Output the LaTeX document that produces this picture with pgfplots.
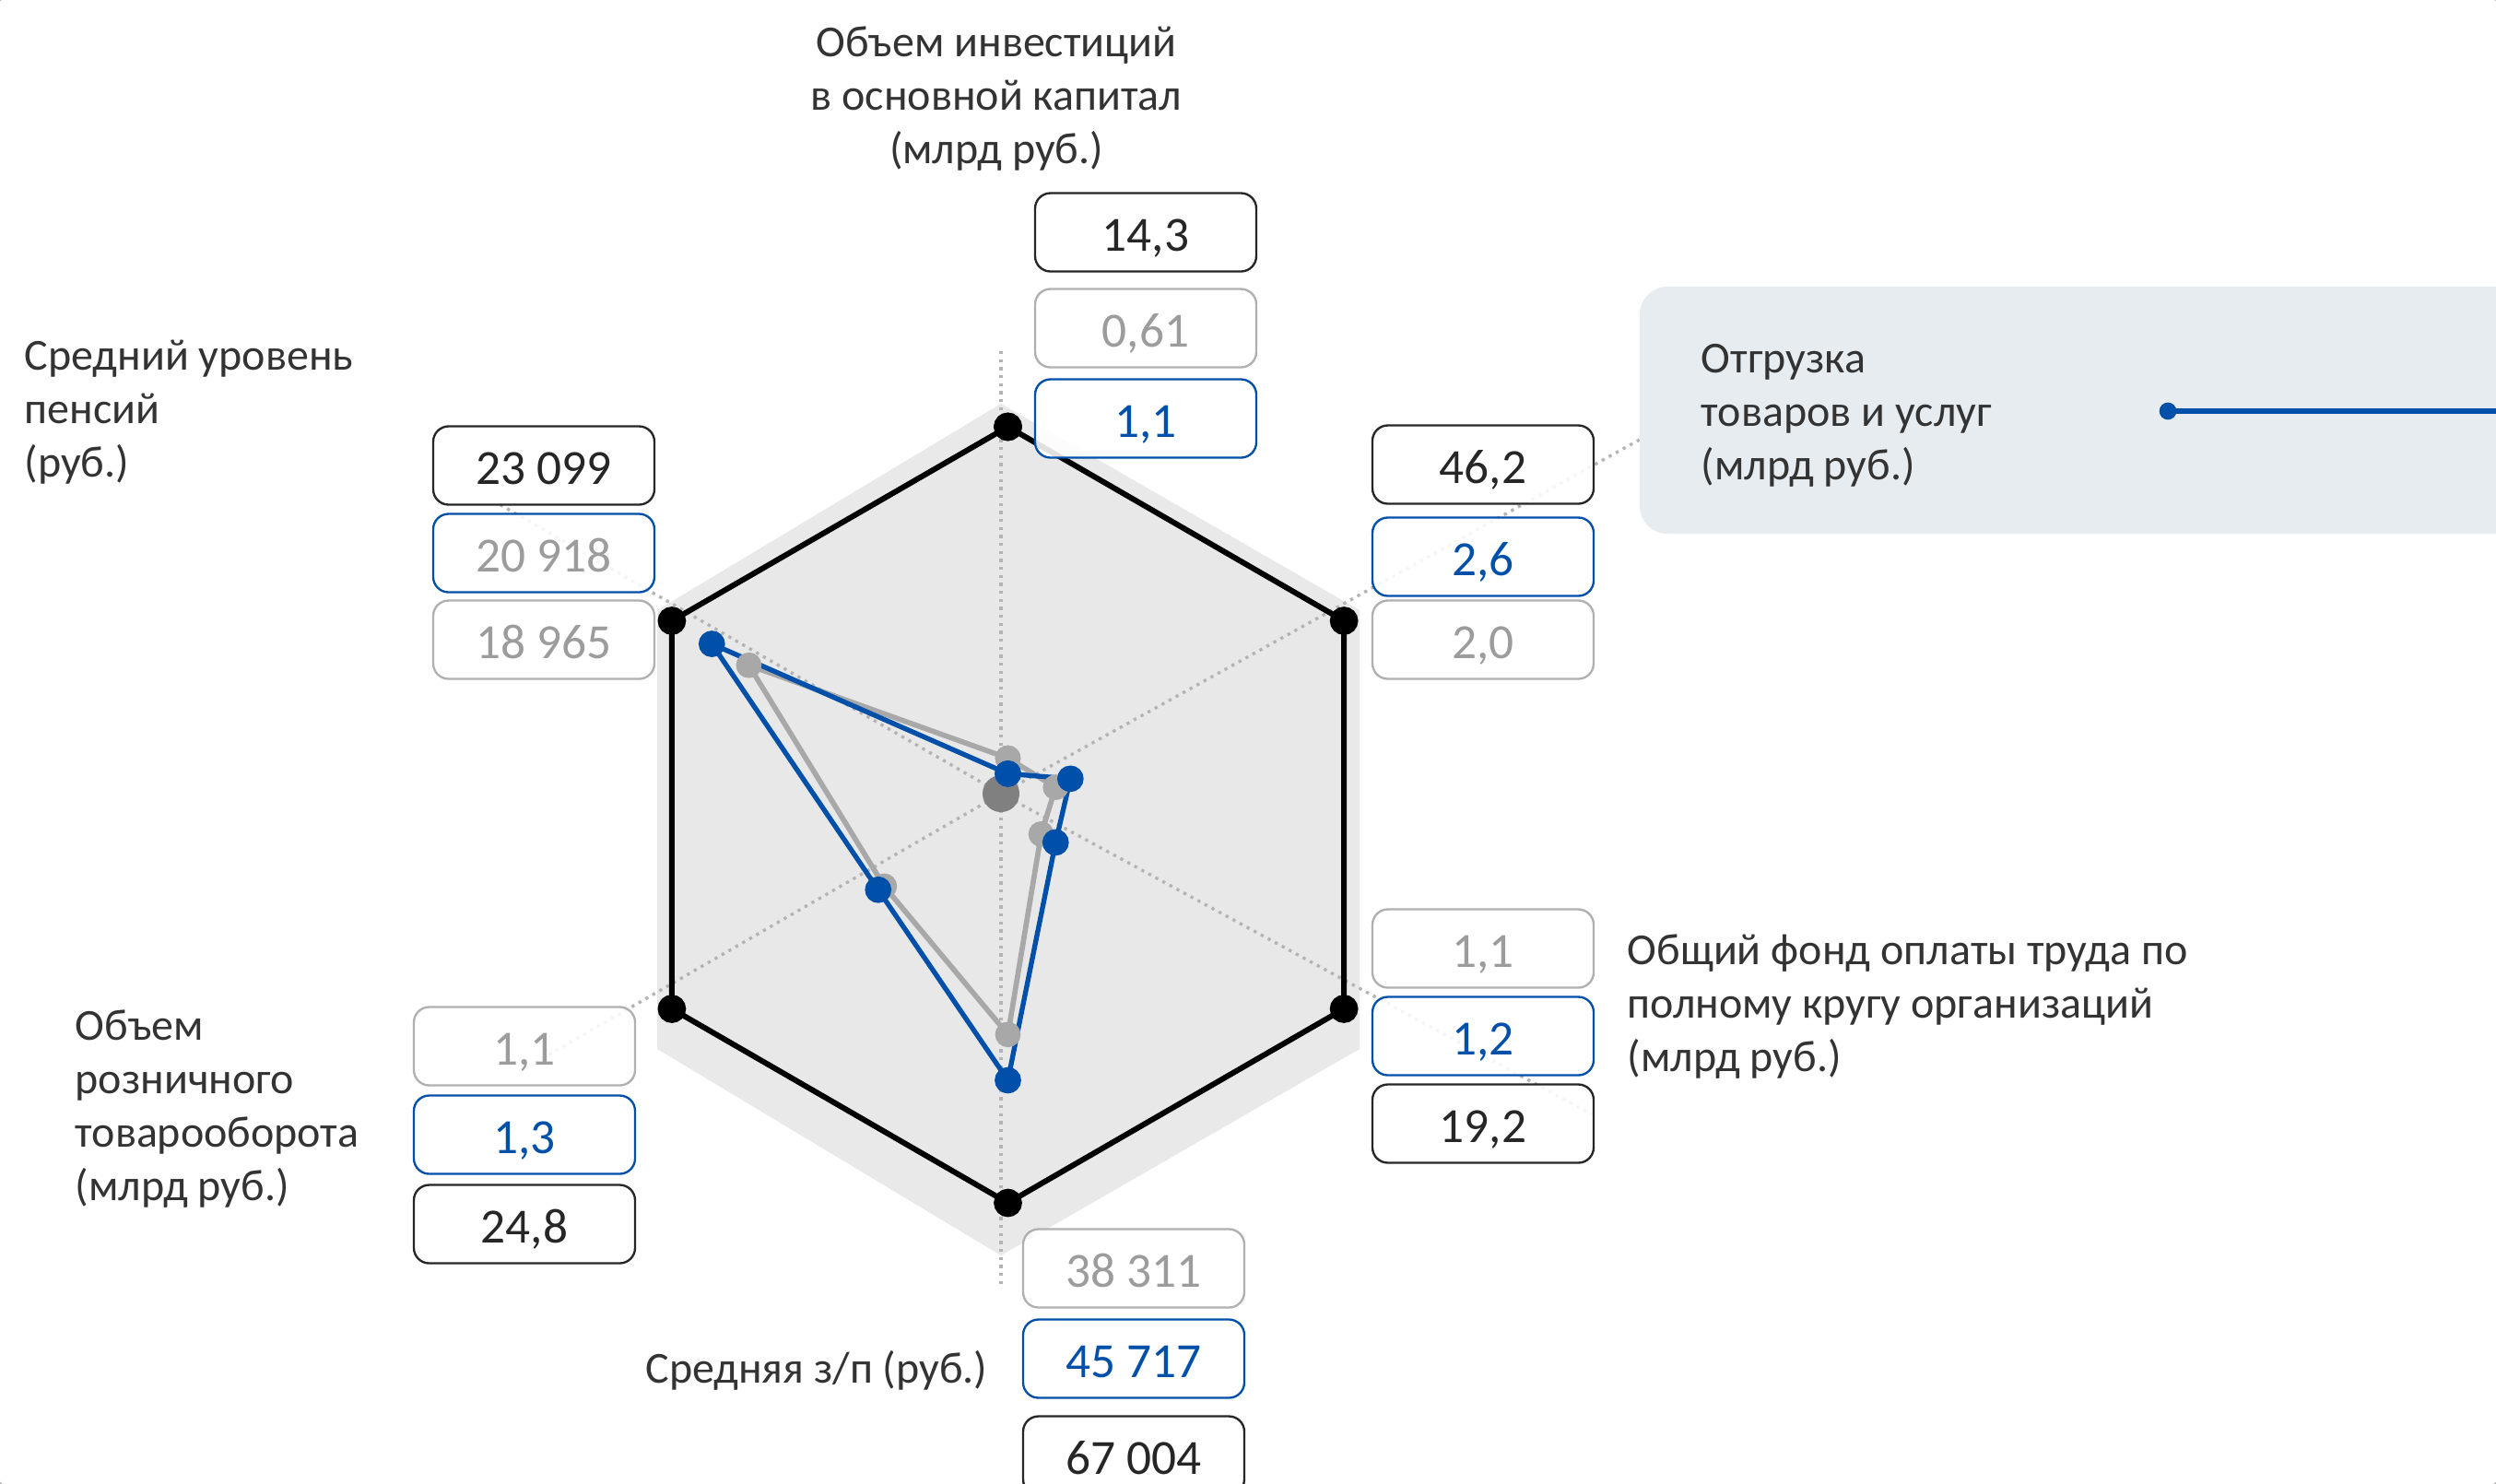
\documentclass[border=0pt]{standalone}
\usepackage{pgfplots}
\pgfplotsset{compat=1.18}
\usepackage{pgfplotstable}
\usepackage{fontspec}
\setmainfont{Carlito}
\definecolor{bg}{HTML}{F2F3F3}
\definecolor{shade}{HTML}{E9E9E9}
\definecolor{hexfill}{HTML}{E8E8E8}
\definecolor{blueS}{HTML}{0050AA}
\definecolor{grayS}{HTML}{A8A8A8}
\definecolor{raycol}{HTML}{B4B4B4}
\definecolor{labcol}{HTML}{333333}
\definecolor{numblack}{HTML}{262626}
\definecolor{numgray}{HTML}{9C9C9C}
\definecolor{boxgray}{HTML}{B0B0B0}
\definecolor{callout}{HTML}{E7ECF0}
\definecolor{centerdot}{HTML}{808080}

% normalised radar values (angle in degrees, radius relative to hexagon)
\pgfplotstableread{
a r
90 0.106
30 0.186
-30 0.142
-90 0.684
-150 0.386
150 0.881
90 0.106
}\blueT
\pgfplotstableread{
a r
90 0.146
30 0.142
-30 0.099
-90 0.566
-150 0.368
150 0.771
90 0.146
}\grayT
\pgfplotstableread{
a r
90 1
30 1
-30 1
-90 1
-150 1
150 1
90 1
}\maxT

\tikzset{
  vbox/.style={draw, rounded corners=5pt, fill=white, fill opacity=0.88, text opacity=1,
    minimum width=72pt, minimum height=25.5pt, inner sep=0pt, line width=0.7pt,
    text height=12.5pt, text depth=0pt,
    font=\fontsize{16}{19}\selectfont},
  bk/.style={vbox, draw=numblack, text=numblack},
  bg/.style={vbox, draw=boxgray, text=numgray},
  bb/.style={vbox, draw=blueS, text=blueS},
  lab/.style={text=labcol, font=\fontsize{14.4}{17.4}\selectfont, inner sep=0pt},
}

\begin{document}
\begin{tikzpicture}
\begin{axis}[name=ax, at={(0,0)}, anchor=south west,
  width=812.4pt, height=482.7pt, scale only axis,
  xmin=0, xmax=2708, ymin=0, ymax=1609, y dir=reverse,
  hide axis, clip=false]

% background
\fill[bg] (-5,-5) rectangle (2713,1614);

% outer shade of the hexagon
\addplot[draw=none, fill=shade] coordinates {(1086,438) (1475,662) (1475,1138) (1086,1362) (713,1138) (713,662) (1086,438)};

% hexagon fill
\addplot[draw=none, fill=hexfill] table[x expr={1093.5+421*\thisrow{r}*cos(\thisrow{a})}, y expr={884-421*\thisrow{r}*sin(\thisrow{a})}] {\maxT};

% dotted rays
\draw[raycol, line width=1pt, dash pattern=on 1pt off 1.6pt] (1086,861) -- (1086,380);
\draw[raycol, line width=1pt, dash pattern=on 1pt off 1.6pt] (1086,861) -- (1786,473);
\draw[raycol, line width=1pt, dash pattern=on 1pt off 1.6pt] (1086,861) -- (1727,1209);
\draw[raycol, line width=1pt, dash pattern=on 1pt off 1.6pt] (1086,861) -- (1086,1396);
\draw[raycol, line width=1pt, dash pattern=on 1pt off 1.6pt] (1086,861) -- (575,1156);
\draw[raycol, line width=1pt, dash pattern=on 1pt off 1.6pt] (1086,861) -- (540,546);

% hexagon outline (maximum)
\addplot[black, line width=1.8pt, mark=*, mark size=3.7pt, mark options={fill=black}] table[x expr={1093.5+421*\thisrow{r}*cos(\thisrow{a})}, y expr={884-421*\thisrow{r}*sin(\thisrow{a})}] {\maxT};

% centre dot
\fill[centerdot] (1086,861) circle (6pt);

% gray series
\addplot[grayS, line width=1.7pt, mark=*, mark size=3.3pt, mark options={fill=grayS, draw=grayS}] table[x expr={1093.5+421*\thisrow{r}*cos(\thisrow{a})}, y expr={884-421*\thisrow{r}*sin(\thisrow{a})}] {\grayT};

% blue series
\addplot[blueS, line width=1.6pt, mark=*, mark size=3.5pt, mark options={fill=blueS, draw=blueS}] table[x expr={1093.5+421*\thisrow{r}*cos(\thisrow{a})}, y expr={884-421*\thisrow{r}*sin(\thisrow{a})}] {\blueT};

% callout box
\fill[callout, rounded corners=9pt] (1779,311) rectangle (2800,579);
\draw[blueS, line width=1.6pt] (2352,446) -- (2720,446);
\fill[blueS] (2352,446) circle (2.8pt);

% value boxes: top
\node[bk] at (1243,252) {14,3};
\node[bg] at (1243,356) {0,61};
\node[bb] at (1243,454) {1,1};
% upper right
\node[bk] at (1609,504) {46,2};
\node[bb] at (1609,604) {2,6};
\node[bg] at (1609,694) {2,0};
% lower right
\node[bg] at (1609,1029) {1,1};
\node[bb] at (1609,1124) {1,2};
\node[bk] at (1609,1219) {19,2};
% bottom
\node[bg] at (1230,1376) {38 311};
\node[bb] at (1230,1474) {45 717};
\node[bk] at (1230,1579) {67 004};
% lower left
\node[bg] at (569,1135) {1,1};
\node[bb] at (569,1231) {1,3};
\node[bk] at (569,1328) {24,8};
% upper left
\node[bk] at (590,505) {23 099};
\node[vbox, draw=blueS, text=numgray] at (590,600) {20 918};
\node[bg] at (590,694) {18 965};

% axis labels
\node[lab, align=center] at (1081,107) {Объем инвестиций\\в основной капитал\\(млрд руб.)};
\node[lab, align=left, anchor=west] at (1845,451) {Отгрузка\\товаров и услуг\\(млрд руб.)};
\node[lab, align=left, anchor=west] at (1765,1092) {Общий фонд оплаты труда по\\полному кругу организаций\\(млрд руб.)};
\node[lab, anchor=east] at (1072,1487) {Средняя з/п (руб.)};
\node[lab, align=left, anchor=west] at (81,1203) {Объем\\розничного\\товарооборота\\(млрд руб.)};
\node[lab, align=left, anchor=west] at (26,447) {Средний уровень\\пенсий\\(руб.)};
\end{axis}
\pgfresetboundingbox
\path[use as bounding box] (ax.south west) rectangle (ax.north east);
\end{tikzpicture}
\end{document}
